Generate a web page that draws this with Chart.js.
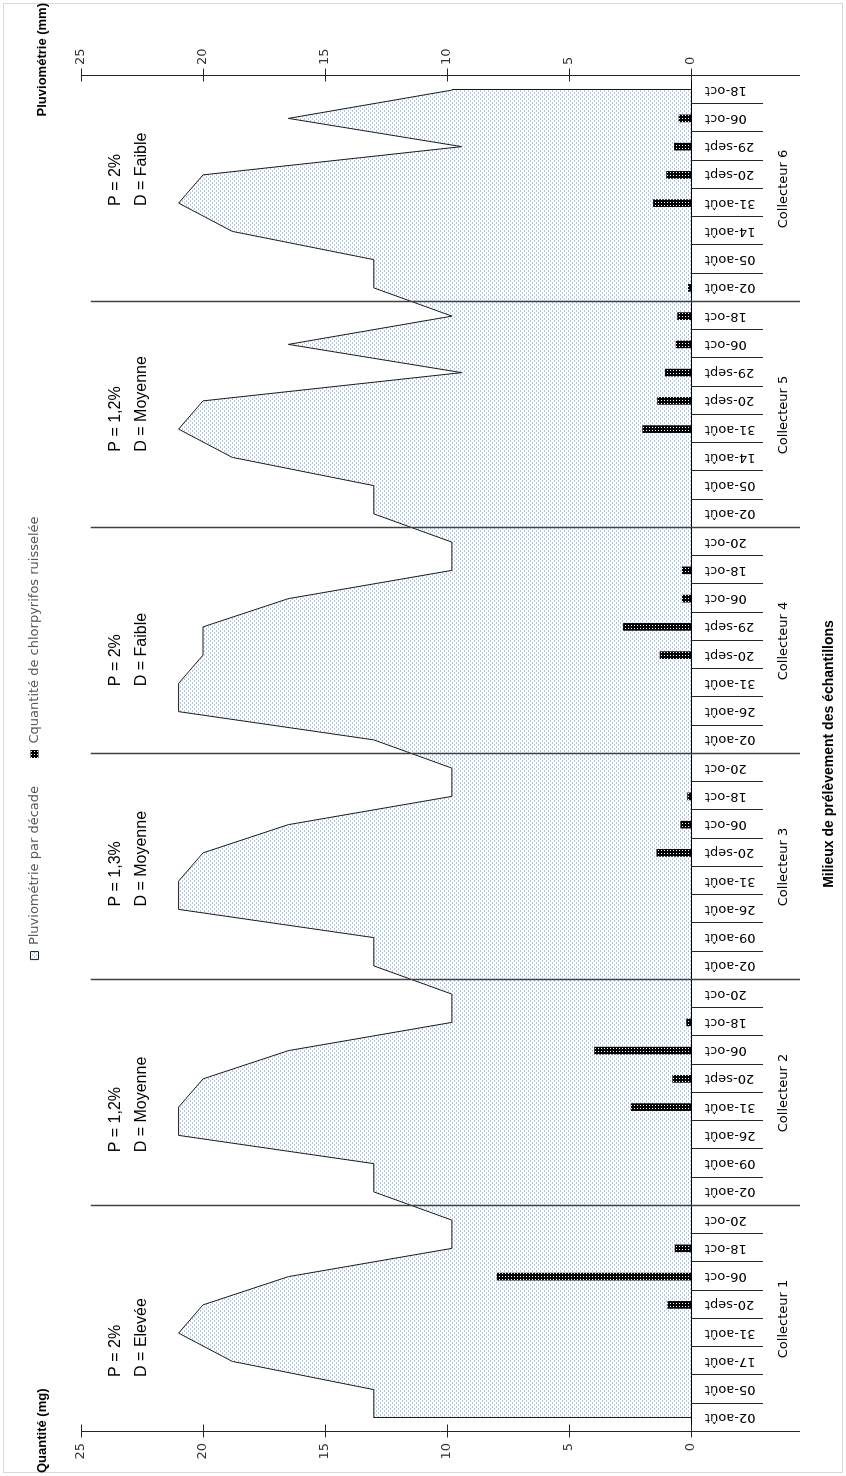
<!DOCTYPE html>
<html><head><meta charset="utf-8">
<script src="https://cdn.jsdelivr.net/npm/chart.js@4.4.0/dist/chart.umd.min.js"></script>
<style>
html,body{margin:0;padding:0;background:#fff;overflow:hidden;width:846px;height:1476px;}
#wrap{position:absolute;left:0;top:0;width:1476px;height:846px;transform-origin:0 0;transform:translateY(1476px) rotate(-90deg);}
canvas{display:block;}
</style></head><body>
<div id="wrap"><canvas id="c" width="1476" height="846"></canvas></div>
<script>
// ---------- data ----------
const groupNames = ['Collecteur 1','Collecteur 2','Collecteur 3','Collecteur 4','Collecteur 5','Collecteur 6'];
const dates1 = ['02-août','05-août','17-août','31-août','20-sept','06-oct','18-oct','20-oct'];
const dates2 = ['02-août','09-août','26-août','31-août','20-sept','06-oct','18-oct','20-oct'];
const dates3 = ['02-août','09-août','26-août','31-août','20-sept','06-oct','18-oct','20-oct'];
const dates4 = ['02-août','26-août','31-août','20-sept','29-sept','06-oct','18-oct','20-oct'];
const dates5 = ['02-août','05-août','14-août','31-août','20-sept','29-sept','06-oct','18-oct'];
const dates6 = ['02-août','05-août','14-août','31-août','20-sept','29-sept','06-oct','18-oct'];

// Pluviométrie par décade (mm)
const rain1 = [13, 13, 18.8, 21, 20, 16.5, 9.8, 9.8];
const rain2 = [13, 13, 21, 21, 20, 16.5, 9.8, 9.8];
const rain3 = [13, 13, 21, 21, 20, 16.5, 9.8, 9.8];
const rain4 = [13, 21, 21, 20, 20, 16.5, 9.8, 9.8];
const rain5 = [13, 13, 18.8, 21, 20, 9.4, 16.5, 9.8];
const rain6 = [13, 13, 18.8, 21, 20, 9.4, 16.5, 9.8];

// Quantité de chlorpyrifos ruisselée (mg)
const qty1 = [null, null, null, null, 0.95, 7.95, 0.65, null];
const qty2 = [null, null, null, 2.45, 0.75, 3.95, 0.18, null];
const qty3 = [null, null, null, null, 1.4, 0.42, 0.14, null];
const qty4 = [null, null, null, 1.27, 2.77, 0.36, 0.36, null];
const qty5 = [null, null, null, 1.98, 1.37, 1.05, 0.61, 0.55];
const qty6 = [0.11, null, null, 1.54, 1.0, 0.68, 0.49, null];

const valueTicks = [0, 5, 10, 15, 20, 25];
const annotP = ['P = 2%', 'P = 1,2%', 'P = 1,3%', 'P = 2%', 'P = 1,2%', 'P = 2%'];
const annotD = ['D = Elevée', 'D = Moyenne', 'D = Moyenne', 'D = Faible', 'D = Moyenne', 'D = Faible'];

const labels = [].concat(dates1, dates2, dates3, dates4, dates5, dates6);
const rain = [].concat(rain1, rain2, rain3, rain4, rain5, rain6);
const qty = [].concat(qty1, qty2, qty3, qty4, qty5, qty6);
const groupSize = dates1.length;

// ---------- layout (not data) ----------
const annotAnchor = [1.45, 9.4, 18.1, 25.9, 34.2, 42.9]; // category position of text start
const LOW_EDGE = 800;

function makePattern(bg, fg, size, dots){
  const c = document.createElement('canvas'); c.width = c.height = size;
  const g = c.getContext('2d');
  g.fillStyle = bg; g.fillRect(0,0,size,size);
  g.fillStyle = fg; dots.forEach(d => g.fillRect(d[0], d[1], d[2], d[3]));
  return g.createPattern(c, 'repeat');
}
const canvas = document.getElementById('c');
const ctx0 = canvas.getContext('2d');
const rainFill = makePattern('#ffffff', '#adc8ee', 4, [[0,0,2,1],[2,2,2,1]]);
const barFill = makePattern('#000000', '#ffffff', 3, [[1,1,1,1]]);

const decor = {
  id: 'decor',
  afterInit(chart){
    const lg = chart.legend;
    if (lg) { const f = lg.fit; lg.fit = function(){ f.call(this); this.height = 81; }; }
  },
  afterDraw(chart){
    const {ctx, chartArea: a, scales: {x, y, y1}} = chart;
    ctx.save();
    // light outer border
    ctx.strokeStyle = '#d9d9d9'; ctx.lineWidth = 1;
    ctx.strokeRect(3.5, 3.5, chart.width - 7, chart.height - 7);

    // area outline at both ends
    const pts = chart.getDatasetMeta(0).data;
    const base = y1.getPixelForValue(0);
    ctx.strokeStyle = '#1a1a1a'; ctx.lineWidth = 1;
    [pts[0], pts[pts.length-1]].forEach(p => {
      ctx.beginPath(); ctx.moveTo(Math.round(p.x)+0.5, p.y); ctx.lineTo(Math.round(p.x)+0.5, base); ctx.stroke();
    });

    // value axes with cross ticks
    [[y, a.left], [y1, a.right]].forEach(([s, px]) => {
      const X = Math.round(px) + 0.5;
      ctx.strokeStyle = '#262626'; ctx.lineWidth = 1;
      ctx.beginPath(); ctx.moveTo(X, s.getPixelForValue(25)); ctx.lineTo(X, LOW_EDGE); ctx.stroke();
      valueTicks.forEach(v => {
        const py = Math.round(s.getPixelForValue(v)) + 0.5;
        ctx.beginPath(); ctx.moveTo(X - 6, py); ctx.lineTo(X + 7, py); ctx.stroke();
      });
    });

    // category ticks and group separators
    for (let i = 1; i < labels.length; i++) {
      const px = Math.round(x.getPixelForValue(i - 0.5)) + 0.5;
      ctx.beginPath();
      if (i % groupSize === 0) {
        ctx.strokeStyle = '#404040'; ctx.lineWidth = 1.5;
        ctx.moveTo(px, y.getPixelForValue(24.6)); ctx.lineTo(px, LOW_EDGE);
      } else {
        ctx.strokeStyle = '#262626'; ctx.lineWidth = 1;
        ctx.moveTo(px, a.bottom); ctx.lineTo(px, a.bottom + 72);
      }
      ctx.stroke();
    }

    // group labels
    ctx.fillStyle = '#000';
    ctx.font = '13px "DejaVu Sans"';
    ctx.textAlign = 'center'; ctx.textBaseline = 'middle';
    groupNames.forEach((g, k) => {
      ctx.fillText(g, x.getPixelForValue(k * groupSize + (groupSize - 1) / 2), 784);
    });

    // axis titles
    ctx.font = 'bold 13px "Liberation Sans"';
    ctx.textAlign = 'left';
    ctx.fillText('Quantité (mg)', 3, 42);
    ctx.textAlign = 'right';
    ctx.fillText('Pluviométrie (mm)', chart.width - 3, 42);

    // annotations
    ctx.font = '16px "Liberation Sans"';
    ctx.textAlign = 'left';
    annotP.forEach((t, k) => {
      const px = x.getPixelForValue(annotAnchor[k]);
      ctx.fillText(t, px, y.getPixelForValue(23.6));
      ctx.fillText(annotD[k], px, y.getPixelForValue(22.5));
    });
    ctx.restore();
  }
};

new Chart(ctx0, {
  type: 'bar',
  data: {
    labels: labels,
    datasets: [
      { type: 'line', label: 'Pluviométrie par décade', data: rain, yAxisID: 'y1',
        borderColor: '#1a1a1a', borderWidth: 1, backgroundColor: rainFill, fill: 'origin',
        pointRadius: 0, tension: 0, order: 2 },
      { type: 'bar', label: 'Cquantité de chlorpyrifos ruisselée', data: qty, yAxisID: 'y',
        backgroundColor: barFill, borderWidth: 0, barThickness: 7, order: 1 }
    ]
  },
  options: {
    responsive: false, animation: false, devicePixelRatio: 1,
    layout: { padding: 0 },
    plugins: {
      legend: { position: 'top', reverse: true,
        labels: { boxWidth: 8, boxHeight: 8, padding: 28, color: '#595959',
          font: { family: 'DejaVu Sans', size: 13 } } },
      tooltip: { enabled: false }
    },
    scales: {
      x: {
        offset: true,
        grid: { display: false, drawTicks: false },
        border: { display: true, color: '#000', width: 1 },
        ticks: { autoSkip: false, minRotation: 90, maxRotation: 90, padding: 14, color: '#000',
          font: { family: 'DejaVu Sans', size: 13 } },
        title: { display: true, text: 'Milieux de prélèvement des échantillons', color: '#000',
          font: { family: 'Liberation Sans', size: 14, weight: 'bold' }, padding: { top: 0, bottom: 8 } },
        afterFit(s){ s.height = 155; }
      },
      y: {
        position: 'left', min: 0, max: 25,
        grid: { display: false, drawTicks: false }, border: { display: false },
        ticks: { stepSize: 5, padding: 11, color: '#333', font: { family: 'DejaVu Sans', size: 13 } },
        afterFit(s){ s.width = 44; }
      },
      y1: {
        position: 'right', min: 0, max: 25,
        grid: { display: false, drawTicks: false }, border: { display: false },
        ticks: { stepSize: 5, padding: 11, color: '#333', font: { family: 'DejaVu Sans', size: 13 } },
        afterFit(s){ s.width = 76; }
      }
    }
  },
  plugins: [decor]
});
</script>
</body></html>
